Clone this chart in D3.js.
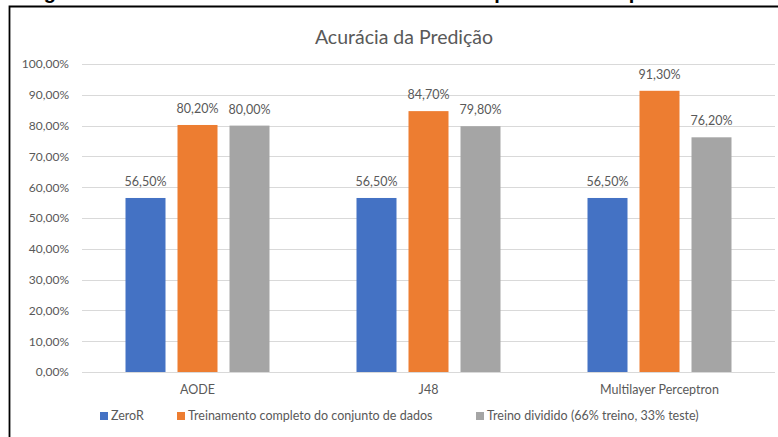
<!DOCTYPE html>
<html>
<head>
<meta charset="utf-8">
<script src="https://cdn.jsdelivr.net/npm/d3@7"></script>
<style>
html,body{margin:0;padding:0;background:#fff;}
svg{display:block;}
</style>
</head>
<body>
<svg id="chart" width="778" height="437"></svg>
<script>
const categories = ["AODE", "J48", "Multilayer Perceptron"];
const seriesNames = ["ZeroR", "Treinamento completo do conjunto de dados", "Treino dividido (66% treino, 33% teste)"];
const zeroR = [56.5, 56.5, 56.5];
const completo = [80.2, 84.7, 91.3];
const dividido = [80.0, 79.8, 76.2];
const colors = ["#4472C4", "#ED7D31", "#A5A5A5"];
const yTicks = [0, 10, 20, 30, 40, 50, 60, 70, 80, 90, 100];
const title = "Acurácia da Predição";
const caption = "Figura 6 – Acurácia dos métodos com treino completo e com o parcial";

const seriesValues = [zeroR, completo, dividido];
const fmt = v => v.toFixed(2).replace(".", ",") + "%";

const svg = d3.select("#chart");
const font = "Lato, 'Open Sans', sans-serif";
const textColor = "#595959";

// cut-off caption (only descenders visible, as in the reference) and frame
svg.append("text").attr("x", 26).attr("y", -1)
  .attr("font-family", "'Liberation Sans', Arial, sans-serif").attr("font-weight", "bold")
  .attr("font-size", 20).attr("fill", "#000").text(caption);
svg.append("path").attr("d", "M9.5,437 L9.5,6.5 L778,6.5")
  .attr("fill", "none").attr("stroke", "#000").attr("stroke-width", 1.8);

const x0 = d3.scaleBand().domain(categories).range([82, 775]).padding(0);
const x1 = d3.scaleBand().domain(seriesNames).range([43.5, 187.5]).paddingInner(12 / 52).paddingOuter(0);
const y = d3.scaleLinear().domain([0, 100]).range([372, 64]);

// gridlines
svg.append("g").selectAll("line").data(yTicks.slice(1)).join("line")
  .attr("x1", 82).attr("x2", 775)
  .attr("y1", d => Math.round(y(d)) + 0.5).attr("y2", d => Math.round(y(d)) + 0.5)
  .attr("stroke", "#D9D9D9").attr("stroke-width", 1);

// y axis labels
const yAxis = d3.axisLeft(y).tickValues(yTicks).tickFormat(fmt).tickSize(0).tickPadding(13);
const ya = svg.append("g").attr("transform", "translate(82,0)").call(yAxis);
ya.select(".domain").remove();
ya.selectAll("text").attr("font-family", font).attr("font-size", 12).attr("fill", textColor);

// bars
const groups = svg.append("g").selectAll("g").data(categories).join("g")
  .attr("transform", d => `translate(${x0(d)},0)`);
groups.selectAll("rect").data((d, i) => seriesNames.map((s, j) => ({s, j, v: seriesValues[j][i]}))).join("rect")
  .attr("x", d => x1(d.s)).attr("width", x1.bandwidth())
  .attr("y", d => y(d.v)).attr("height", d => y(0) - y(d.v))
  .attr("fill", d => colors[d.j]);
groups.selectAll("text").data((d, i) => seriesNames.map((s, j) => ({s, j, v: seriesValues[j][i]}))).join("text")
  .attr("x", d => x1(d.s) + x1.bandwidth() / 2).attr("y", d => y(d.v) - 12)
  .attr("text-anchor", "middle").attr("font-family", font).attr("font-size", 12.5)
  .attr("fill", textColor).text(d => fmt(d.v));

// x axis
const xAxis = d3.axisBottom(x0).tickSize(0).tickPadding(13);
const xa = svg.append("g").attr("transform", "translate(0,372)").call(xAxis);
xa.select(".domain").attr("stroke", "#D9D9D9").attr("d", "M82,0.5H775");
xa.selectAll("text").attr("font-family", font).attr("font-size", 12.5).attr("fill", textColor);

// title
svg.append("text").attr("x", 404).attr("y", 44).attr("text-anchor", "middle")
  .attr("font-family", font).attr("font-size", 19.5).attr("fill", textColor).text(title);

// legend
const legendX = [100, 177, 476];
const lg = svg.append("g").selectAll("g").data(seriesNames).join("g")
  .attr("transform", (d, i) => `translate(${legendX[i]},0)`);
lg.append("rect").attr("x", 0).attr("y", 412).attr("width", 8).attr("height", 8)
  .attr("fill", (d, i) => colors[i]);
lg.append("text").attr("x", 11).attr("y", 420).attr("font-family", font).attr("font-size", 12.5)
  .attr("fill", textColor).text(d => d);
</script>
</body>
</html>
